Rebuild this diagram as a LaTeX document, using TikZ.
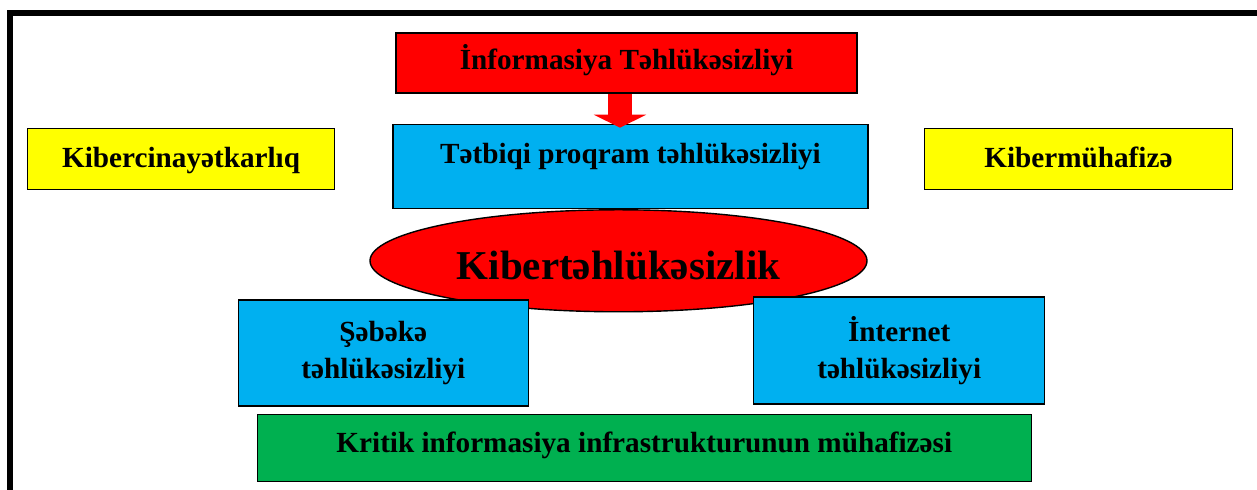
\documentclass[tikz,border=0pt]{standalone}
\usepackage{fontspec}
\setmainfont{Liberation Serif}
\usetikzlibrary{positioning, shapes.geometric, arrows.meta}

\definecolor{boxred}{RGB}{255,0,0}
\definecolor{boxblue}{RGB}{0,176,240}
\definecolor{boxyellow}{RGB}{255,255,0}
\definecolor{boxgreen}{RGB}{0,176,80}

\begin{document}
\begin{tikzpicture}[node distance=15pt]
			% node styles
			\tikzstyle{box} = [rectangle, draw=black, line width=0.7pt, inner sep=0pt, text centered,
				font=\bfseries\fontsize{14.6pt}{18.5pt}\selectfont]
			\tikzstyle{redbox} = [box, fill=boxred]
			\tikzstyle{bluebox} = [box, fill=boxblue]
			\tikzstyle{yellowbox} = [box, fill=boxyellow]
			\tikzstyle{greenbox} = [box, fill=boxgreen]
			\tikzstyle{oval} = [ellipse, draw=black, line width=0.7pt, fill=boxred, inner sep=0pt,
				font=\bfseries\fontsize{20.5pt}{24pt}\selectfont]
			\tikzstyle{bigarrow} = [draw=boxred, line width=12pt, -{Triangle[width=26pt,length=6.5pt]}]

			\useasboundingbox (-313.25pt,31.5pt) rectangle (315.25pt,-213.5pt);

			% frame
			\draw [line width=3pt] (-308.1pt,-213.5pt) -- (-308.1pt,25pt) -- (315.25pt,25pt);

			% nodes
			\node [redbox, minimum width=230.5pt, text height=18.5pt, text depth=11.5pt] (infosec) {İnformasiya Təhlükəsizliyi};
			\node [bluebox, below=of infosec, xshift=2pt, minimum width=237.5pt, text height=19.5pt, text depth=22.5pt] (app) {Tətbiqi proqram təhlükəsizliyi};
			\node [yellowbox, left=28.5pt of app.north west, anchor=north east, yshift=-2pt, minimum width=153.5pt, text height=19.5pt, text depth=11pt] (crime) {Kibercinayətkarlıq};
			\node [yellowbox, right=27.5pt of app.north east, anchor=north west, yshift=-2pt, minimum width=154pt, text height=19.5pt, text depth=11pt] (protect) {Kibermühafizə};
			\node [oval, below=0pt of app, xshift=-6pt, minimum width=248.5pt, minimum height=51pt, text height=18.5pt, text depth=0pt] (cyber) {Kibertəhlükəsizlik};
			\node [bluebox, below=-6.5pt of cyber.south, anchor=north east, xshift=-44.75pt, minimum width=145pt, minimum height=53pt, align=center] (net) {Şəbəkə\\təhlükəsizliyi};
			\node [bluebox, below=-8pt of cyber.south, anchor=north west, xshift=67.25pt, minimum width=145.5pt, minimum height=53.5pt, align=center] (inet) {İnternet\\təhlükəsizliyi};
			\node [greenbox, below=3.5pt of net.south west, anchor=north west, xshift=9.5pt, minimum width=387pt, text height=19pt, text depth=14.5pt] (infra) {Kritik informasiya infrastrukturunun mühafizəsi};

			% arrow
			\draw [bigarrow] ([xshift=-3.25pt,yshift=-0.4pt]infosec.south) -- ([xshift=-3.25pt,yshift=-2pt]infosec.south |- app.north);
		\end{tikzpicture}
\end{document}
